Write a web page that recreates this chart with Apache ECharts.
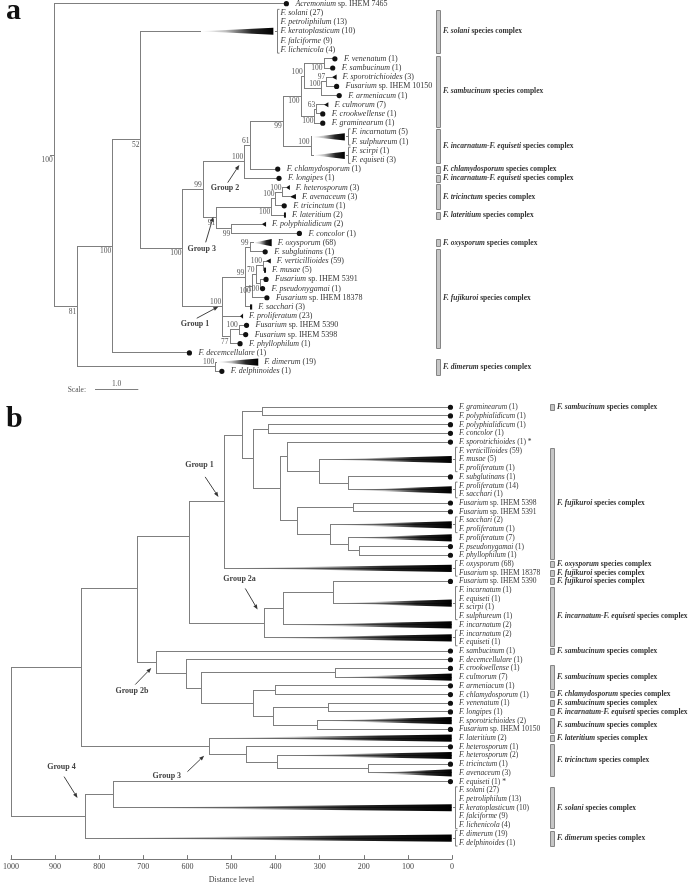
<!DOCTYPE html>
<html><head><meta charset="utf-8">
<script src="https://cdn.jsdelivr.net/npm/echarts@6.0.0/dist/echarts.min.js"></script>
<style>html,body{margin:0;padding:0;background:#fff}#chart{width:696px;height:889px}</style>
</head><body><div id="chart"></div>
<script>
// ================= PANEL a : bootstrap tree =================
const aLabels = [
 ['Acremonium',' sp. IHEM 7465'],
 ['F. solani',' (27)'],['F. petroliphilum',' (13)'],['F. keratoplasticum',' (10)'],['F. falciforme',' (9)'],['F. lichenicola',' (4)'],
 ['F. venenatum',' (1)'],['F. sambucinum',' (1)'],['F. sporotrichioides',' (3)'],['Fusarium',' sp. IHEM 10150'],['F. armeniacum',' (1)'],
 ['F. culmorum',' (7)'],['F. crookwellense',' (1)'],['F. graminearum',' (1)'],
 ['F. incarnatum',' (5)'],['F. sulphureum',' (1)'],['F. scirpi',' (1)'],['F. equiseti',' (3)'],
 ['F. chlamydosporum',' (1)'],['F. longipes',' (1)'],
 ['F. heterosporum',' (3)'],['F. avenaceum',' (3)'],['F. tricinctum',' (1)'],['F. lateritium',' (2)'],
 ['F. polyphialidicum',' (2)'],['F. concolor',' (1)'],
 ['F. oxysporum',' (68)'],['F. subglutinans',' (1)'],['F. verticillioides',' (59)'],['F. musae',' (5)'],
 ['Fusarium',' sp. IHEM 5391'],['F. pseudonygamai',' (1)'],['Fusarium',' sp. IHEM 18378'],['F. sacchari',' (3)'],
 ['F. proliferatum',' (23)'],['Fusarium',' sp. IHEM 5390'],['Fusarium',' sp. IHEM 5398'],['F. phyllophilum',' (1)'],
 ['F. decemcellulare',' (1)'],['F. dimerum',' (19)'],['F. delphinoides',' (1)']
];
const aTips = [
 ['acr',0,0,'dot',5.36,5.36],['sol',1,5,'tri',3.37,5.06],
 ['ven',6,6,'dot',6.48,6.48],['sam',7,7,'dot',6.43,6.43],['spo',8,8,'tri',6.41,6.52],['i10150',9,9,'dot',6.52,6.52],
 ['arm',10,10,'dot',6.58,6.58],['cul',11,11,'tri',6.23,6.33],['cro',12,12,'dot',6.20,6.20],['gra',13,13,'dot',6.20,6.20],
 ['inc',14,15,'tri',5.95,6.71],['sci',16,17,'tri',5.98,6.71],['chl',18,18,'dot',5.16,5.16],['lon',19,19,'dot',5.19,5.19],
 ['het',20,20,'tri',5.35,5.44],['ave',21,21,'tri',5.44,5.58],['tri',22,22,'dot',5.31,5.31],['lat',23,23,'tri',5.31,5.35],
 ['pol',24,24,'tri',4.79,4.89],['con',25,25,'dot',5.66,5.66],['oxy',26,26,'tri',4.60,5.02],['sub',27,27,'dot',4.87,4.87],
 ['ver',28,28,'tri',4.89,5.00],['mus',29,29,'tri',4.86,4.89],['i5391',30,30,'dot',4.89,4.89],['pse',31,31,'dot',4.81,4.81],
 ['i18378',32,32,'dot',4.91,4.91],['sac',33,33,'tri',4.52,4.57],['pro',34,34,'tri',4.29,4.36],['i5390',35,35,'dot',4.44,4.44],
 ['i5398',36,36,'dot',4.42,4.42],['phy',37,37,'dot',4.29,4.29],['dec',38,38,'dot',3.12,3.12],['dim',39,39,'tri',3.75,4.71],
 ['del',40,40,'dot',3.87,3.87]
];
const aNodes = [
 ['root',0,100,['acr','n81']],['n81',0.54,81,['n100a','ndim']],['n100a',1.35,100,['n52','dec']],
 ['n52',2.00,52,['sol','n100b']],['n100b',2.97,100,['n99a','g1']],['n99a',3.44,99,['g2','g3']],
 ['g2',4.40,100,['n61','lon']],['n61',4.54,61,['n99b','chl']],['n99b',5.29,99,['nsam','ninc']],
 ['nsam',5.70,100,['ny','nz']],['ny',5.77,100,['nvs','nsia']],['nvs',6.23,100,['ven','sam']],
 ['nsia',6.18,100,['nsi','arm']],['nsi',6.29,97,['spo','i10150']],['nz',6.02,100,['ncc','gra']],
 ['ncc',6.06,63,['cul','cro']],['ninc',5.93,100,['inc','sci']],
 ['g3',3.75,91,['nhet','npc']],['nhet',5.02,100,['nhat','lat']],['nhat',5.12,100,['nha','tri']],
 ['nha',5.28,100,['het','ave']],['npc',4.10,99,['pol','con']],
 ['g1',3.89,100,['ns','pro','nv']],['ns',4.42,99,['nos','nw','sac']],['nos',4.52,99,['oxy','sub']],
 ['nw',4.57,100,['nx','i18378']],['nx',4.66,70,['nvm','npp']],['nvm',4.83,100,['ver','mus']],
 ['npp',4.77,100,['i5391','pse']],['nv',4.06,77,['nu','phy']],['nu',4.27,100,['i5390','i5398']],
 ['ndim',3.73,100,['dim','del']]
];
const aComplexes = [
 [1,5,'F. solani'],[6,13,'F. sambucinum'],[14,17,'F. incarnatum-F. equiseti'],[18,18,'F. chlamydosporum'],
 [19,19,'F. incarnatum-F. equiseti'],[20,22,'F. tricinctum'],[23,23,'F. lateritium'],[26,26,'F. oxysporum'],
 [27,37,'F. fujikuroi'],[39,40,'F. dimerum']
];
const aScaleLength = 1.0;
const aGroups = [['g1','Group 1'],['g2','Group 2'],['g3','Group 3']];

// ================= PANEL b : distance dendrogram =================
const bLabels = [
 ['F. graminearum',' (1)'],['F. polyphialidicum',' (1)'],['F. polyphialidicum',' (1)'],['F. concolor',' (1)'],
 ['F. sporotrichioides',' (1) *'],['F. verticillioides',' (59)'],['F. musae',' (5)'],['F. proliferatum',' (1)'],
 ['F. subglutinans',' (1)'],['F. proliferatum',' (14)'],['F. sacchari',' (1)'],['Fusarium',' sp. IHEM 5398'],
 ['Fusarium',' sp. IHEM 5391'],['F. sacchari',' (2)'],['F. proliferatum',' (1)'],['F. proliferatum',' (7)'],
 ['F. pseudonygamai',' (1)'],['F. phyllophilum',' (1)'],['F. oxysporum',' (68)'],['Fusarium',' sp. IHEM 18378'],
 ['Fusarium',' sp. IHEM 5390'],['F. incarnatum',' (1)'],['F. equiseti',' (1)'],['F. scirpi',' (1)'],
 ['F. sulphureum',' (1)'],['F. incarnatum',' (2)'],['F. incarnatum',' (2)'],['F. equiseti',' (1)'],
 ['F. sambucinum',' (1)'],['F. decemcellulare',' (1)'],['F. crookwellense',' (1)'],['F. culmorum',' (7)'],
 ['F. armeniacum',' (1)'],['F. chlamydosporum',' (1)'],['F. venenatum',' (1)'],['F. longipes',' (1)'],
 ['F. sporotrichioides',' (2)'],['Fusarium',' sp. IHEM 10150'],['F. lateritium',' (2)'],['F. heterosporum',' (1)'],
 ['F. heterosporum',' (2)'],['F. tricinctum',' (1)'],['F. avenaceum',' (3)'],['F. equiseti',' (1) *'],
 ['F. solani',' (27)'],['F. petroliphilum',' (13)'],['F. keratoplasticum',' (10)'],['F. falciforme',' (9)'],
 ['F. lichenicola',' (4)'],['F. dimerum',' (19)'],['F. delphinoides',' (1)']
];
const bTips = [
 ['t0',0,0,'dot'],['t1',1,1,'dot'],['t2',2,2,'dot'],['t3',3,3,'dot'],['t4',4,4,'dot'],['t5',5,7,'tri'],
 ['t8',8,8,'dot'],['t9',9,10,'tri'],['t11',11,11,'dot'],['t12',12,12,'dot'],['t13',13,14,'tri'],['t15',15,15,'tri'],
 ['t16',16,16,'dot'],['t17',17,17,'dot'],['t18',18,19,'tri'],['t20',20,20,'dot'],['t21',21,24,'tri'],['t25',25,25,'tri'],
 ['t26',26,27,'tri'],['t28',28,28,'dot'],['t29',29,29,'dot'],['t30',30,30,'dot'],['t31',31,31,'tri'],['t32',32,32,'dot'],
 ['t33',33,33,'dot'],['t34',34,34,'dot'],['t35',35,35,'dot'],['t36',36,36,'tri'],['t37',37,37,'dot'],['t38',38,38,'tri'],
 ['t39',39,39,'dot'],['t40',40,40,'tri'],['t41',41,41,'dot'],['t42',42,42,'tri'],['t43',43,43,'dot'],['t44',44,48,'tri'],
 ['t49',49,50,'tri']
];
const bNodes = [
 ['n1',430,['t0','t1']],['n2',415,['t2','t3']],['n8',235,['t8','t9']],['n7',301,['t5','n8']],['n6',372,['t4','n7']],
 ['n10',224,['t11','t12']],['n13',210,['t16','t17']],['n12',235,['t15','n13']],['n11',276,['t13','n12']],
 ['n9',350,['n10','n11']],['n5',390,['n6','n9']],['n4',450,['n2','n5']],['n3',475,['n1','n4']],['g1',516,['n3','t18']],
 ['n269',269,['t20','t21']],['n380',381,['n269','t25']],['g2a',425,['n380','t26']],['n595',595,['g1','g2a'],14.8],
 ['n265',265,['t30','t31']],['n400',400,['t32','t33']],['n279',279,['t34','t35']],['n306',306,['t36','t37']],
 ['n405',405,['n279','n306']],['n450',450,['n400','n405']],['n567',567,['n265','n450']],['n601',601,['t29','n567']],
 ['g2b',669,['t28','n601']],['n714',714,['n595','g2b'],20.8],['n190',190,['t41','t42']],['n395',395,['t40','n190']],
 ['n465',465,['t39','n395']],['g3',550,['t38','n465']],['n840',840,['n714','g3']],['n767',767,['t43','t44']],
 ['g4',832,['n767','t49']],['root',1000,['n840','g4']]
];
const bComplexes = [
 [0,0,'F. sambucinum'],[5,17,'F. fujikuroi'],[18,18,'F. oxysporum'],[19,19,'F. fujikuroi'],[20,20,'F. fujikuroi'],
 [21,27,'F. incarnatum-F. equiseti'],[28,28,'F. sambucinum'],[30,32,'F. sambucinum'],[33,33,'F. chlamydosporum'],
 [34,34,'F. sambucinum'],[35,35,'F. incarnatum-F. equiseti'],[36,37,'F. sambucinum'],[38,38,'F. lateritium'],
 [39,42,'F. tricinctum'],[44,48,'F. solani'],[49,50,'F. dimerum']
];
const bGroups = [['g1','Group 1'],['g2a','Group 2a'],['g2b','Group 2b'],['g3','Group 3'],['g4','Group 4']];
const distanceTicks = [0,100,200,300,400,500,600,700,800,900,1000];

// ================= styling / layout (not data) =================
const SERIF = '"Liberation Serif","Times New Roman",Times,serif';
const LINE = '#7f7f7f', TXT = '#363636', BOOTC = '#555';
const bootAbove = new Set(['n99a','g2','n61','g1','ny','nsi','nsia','ncc','ninc','nha','nhat','nos','ns','nvm','nx','nu','ndim']);
const noteLayout = {
 a_g1: [[-4.4,-0.3],[-26,11.3],[-27.7,17]],
 a_g2: [[-5.5,3.2],[-17.1,20.9],[-19.8,26.5]],
 a_g3: [[-3.4,-1.2],[-11,24.4],[-15,31.4]],
 b_g1: [[-6,-4.9],[-19.3,-24.9],[-25,-36.5]],
 b_g2a: [[-7,-13.8],[-19.3,-34.8],[-25,-44.8]],
 b_g2b: [[-5.7,5.5],[-21.7,22.1],[-25,28.1]],
 b_g3: [[-5.3,9.4],[-22,25.4],[-42.6,29.4]],
 b_g4: [[-7.6,-18.5],[-21,-39.8],[-23.6,-49.2]]
};
const richSp = fs => ({
 i:{fontStyle:'italic',fontSize:fs,fontFamily:SERIF,fill:TXT},
 n:{fontSize:fs,fontFamily:SERIF,fill:TXT}
});
const richCx = {
 bi:{fontStyle:'italic',fontWeight:'bold',fontSize:7.5,fontFamily:SERIF,fill:'#333'},
 b:{fontWeight:'bold',fontSize:7.5,fontFamily:SERIF,fill:'#333'}
};

function buildTree(tips, nodes, isA) {
  const M = {};
  tips.forEach(t => { M[t[0]] = {id:t[0], tip:true, r0:t[1], r1:t[2], shape:t[3], sx:isA?t[4]:null, x:isA?t[5]:null}; });
  nodes.forEach(n => { M[n[0]] = isA ? {id:n[0], x:n[1], boot:n[2], kids:n[3]} : {id:n[0], x:n[1], kids:n[2], ov:n[3]}; });
  Object.values(M).forEach(n => { if (n.kids) n.kids.forEach(k => { M[k].parent = n; }); });
  const yOf = id => {
    const n = M[id];
    if (n.y !== undefined) return n.y;
    if (n.tip) n.y = (n.r0 + n.r1) / 2;
    else if (n.ov !== undefined && n.ov !== null) { n.kids.forEach(yOf); n.y = n.ov; }
    else { const ys = n.kids.map(yOf); n.y = (ys[0] + ys[ys.length-1]) / 2; }
    return n.y;
  };
  Object.keys(M).forEach(yOf);
  if (!isA) Object.values(M).forEach(n => { if (n.tip) { n.sx = n.parent.x; n.x = n.shape === 'dot' ? 3.5 : 0.5; } });
  return M;
}

function treePrims(M, labels, cfg) {
  const P = [], els = Object.values(M);
  els.forEach(e => {
    if (e.parent) {
      const end = (e.tip && e.shape === 'tri' && cfg.stopAtApex) ? e.sx : e.x;
      P.push({t:'seg', x1:e.parent.x, y1:e.y, x2:end, y2:e.y});
    } else if (cfg.rootStub) {
      P.push({t:'seg', x1:e.x, y1:e.y, x2:e.x, y2:e.y, stubPx:cfg.rootStub});
    }
    if (!e.tip) P.push({t:'seg', x1:e.x, y1:M[e.kids[0]].y, x2:e.x, y2:M[e.kids[e.kids.length-1]].y});
  });
  els.forEach(e => { if (e.tip && e.shape === 'tri') P.push({t:'tri', x1:e.sx, x2:e.x, y:e.y, multi:e.r1 > e.r0}); });
  els.forEach(e => { if (e.tip && e.shape === 'dot') P.push({t:'dot', x:e.x, y:e.y}); });
  els.forEach(e => {
    if (!e.tip) return;
    const lx = cfg.labelAt !== undefined ? cfg.labelAt : e.x;
    const multi = e.r1 > e.r0;
    if (multi) P.push({t:'brk', x:lx, r0:e.r0, r1:e.r1, dx:cfg.brkDx});
    for (let r = e.r0; r <= e.r1; r++) {
      const L = labels[r];
      const dx = cfg.labelAt !== undefined ? cfg.txtDx : (multi ? cfg.txtDx : (e.shape === 'dot' ? cfg.dotDx : cfg.triDx));
      P.push({t:'lab', x:lx, y:r, dx:dx, text:'{i|' + L[0] + '}{n|' + L[1] + '}', fs:cfg.fs});
    }
  });
  els.forEach(e => { if (!e.tip && e.boot !== undefined) P.push({t:'boot', x:e.x, y:e.y, text:String(e.boot), up:bootAbove.has(e.id)}); });
  return P;
}

const A = buildTree(aTips, aNodes, true);
const B = buildTree(bTips, bNodes, false);

const PA = treePrims(A, aLabels, {stopAtApex:true, rootStub:4, brkDx:4, txtDx:7, dotDx:9, triDx:6, fs:8});
aComplexes.forEach(c => { PA.push({t:'cbar', x:0, r0:c[0], r1:c[1], dx:381.2}); PA.push({t:'clab', x:0, r0:c[0], r1:c[1], dx:388.7, text:'{bi|' + c[2] + '}{b| species complex}'}); });
aGroups.forEach(g => { const n = A[g[0]]; PA.push({t:'note', x:n.x, y:n.y, lay:noteLayout['a_' + g[0]], text:g[1]}); });
PA.push({t:'scale', x1:0.94, x2:0.94 + aScaleLength, y:42.0, text:aScaleLength.toFixed(1)});

const PB = treePrims(B, bLabels, {stopAtApex:false, labelAt:0, brkDx:3.5, txtDx:7, fs:7.5});
bComplexes.forEach(c => { PB.push({t:'cbar', x:0, r0:c[0], r1:c[1], dx:98}); PB.push({t:'clab', x:0, r0:c[0], r1:c[1], dx:105, text:'{bi|' + c[2] + '}{b| species complex}'}); });
bGroups.forEach(g => { const n = B[g[0]]; PB.push({t:'note', x:n.x, y:n.y, lay:noteLayout['b_' + g[0]], text:g[1]}); });

const sn = v => Math.round(v - 0.5) + 0.5;
function grad(x0, x1) {
  return new echarts.graphic.LinearGradient(x0, 0, x1, 0, [
    {offset:0, color:'rgba(0,0,0,0)'},{offset:0.35, color:'rgba(0,0,0,0.25)'},
    {offset:0.7, color:'rgba(0,0,0,0.85)'},{offset:1, color:'#000'}], true);
}
function makeRender(P) {
  return function (params, api) {
    const p = P[params.dataIndex];
    const c = (x, y) => api.coord([x, y]);
    switch (p.t) {
      case 'seg': {
        const a = c(p.x1, p.y1), b = c(p.x2, p.y2);
        const x1 = p.stubPx ? a[0] - p.stubPx : a[0];
        return {type:'line', shape:{x1:sn(x1), y1:sn(a[1]), x2:sn(b[0]), y2:sn(b[1])}, style:{stroke:LINE, lineWidth:1, lineCap:'square'}};
      }
      case 'tri': {
        const a = c(p.x1, p.y), b = c(p.x2, p.y);
        const len = b[0] - a[0];
        const h = (p.multi || len > 15) ? 3.6 : 2.6;
        if (len < 3) return {type:'rect', shape:{x:b[0] - Math.max(len, 2), y:a[1] - h, width:Math.max(len, 2), height:2 * h}, style:{fill:'#111'}};
        return {type:'polygon', shape:{points:[[a[0], a[1]], [b[0], b[1] - h], [b[0], b[1] + h]]},
          style:{fill: len > 15 ? grad(a[0], b[0]) : '#111'}};
      }
      case 'dot': {
        const a = c(p.x, p.y);
        return {type:'circle', shape:{cx:a[0], cy:a[1], r:2.6}, style:{fill:'#111'}};
      }
      case 'brk': {
        const a = c(p.x, p.r0), b = c(p.x, p.r1);
        const bx = sn(a[0] + p.dx), top = a[1] - 3.5, bot = b[1] + 3.5, mid = sn((a[1] + b[1]) / 2);
        return {type:'group', children:[
          {type:'polyline', shape:{points:[[bx + 2, top], [bx, top], [bx, bot], [bx + 2, bot]]}, style:{stroke:LINE, fill:null, lineWidth:1}},
          {type:'line', shape:{x1:bx - 2.5, y1:mid, x2:bx, y2:mid}, style:{stroke:LINE, lineWidth:1}}]};
      }
      case 'lab': {
        const a = c(p.x, p.y);
        return {type:'text', x:a[0] + p.dx, y:a[1], style:{text:p.text, rich:richSp(p.fs), fontSize:p.fs, fontFamily:SERIF, fill:TXT, align:'left', verticalAlign:'middle'}};
      }
      case 'boot': {
        const a = c(p.x, p.y);
        return {type:'text', x:a[0] - 1.5, y:a[1] + (p.up ? -4.5 : 5), style:{text:p.text, fontSize:7.5, fontFamily:SERIF, fill:BOOTC, align:'right', verticalAlign:'middle'}};
      }
      case 'cbar': {
        const a = c(p.x, p.r0 - 0.36), b = c(p.x, p.r1 + 0.36);
        return {type:'rect', shape:{x:Math.round(a[0] + p.dx) + 0.5, y:Math.round(a[1]) + 0.5, width:4, height:Math.round(b[1] - a[1])}, style:{fill:'#c6c6c6', stroke:'#858585', lineWidth:1}};
      }
      case 'clab': {
        const a = c(p.x, (p.r0 + p.r1) / 2);
        return {type:'text', x:a[0] + p.dx, y:a[1], style:{text:p.text, rich:richCx, fontSize:7.5, fontFamily:SERIF, fill:'#333', align:'left', verticalAlign:'middle'}};
      }
      case 'note': {
        const a = c(p.x, p.y), L = p.lay;
        const tip = [a[0] + L[0][0], a[1] + L[0][1]], tail = [a[0] + L[1][0], a[1] + L[1][1]];
        const dx = tip[0] - tail[0], dy = tip[1] - tail[1], len = Math.hypot(dx, dy), ux = dx / len, uy = dy / len;
        const base = [tip[0] - ux * 5, tip[1] - uy * 5];
        return {type:'group', children:[
          {type:'line', shape:{x1:tail[0], y1:tail[1], x2:base[0], y2:base[1]}, style:{stroke:'#444', lineWidth:1}},
          {type:'polygon', shape:{points:[tip, [base[0] - uy * 2, base[1] + ux * 2], [base[0] + uy * 2, base[1] - ux * 2]]}, style:{fill:'#333'}},
          {type:'text', x:a[0] + L[2][0], y:a[1] + L[2][1], style:{text:p.text, fontSize:8, fontWeight:'bold', fontFamily:SERIF, fill:'#444', align:'center', verticalAlign:'middle'}}]};
      }
      case 'scale': {
        const a = c(p.x1, p.y), b = c(p.x2, p.y);
        return {type:'group', children:[
          {type:'line', shape:{x1:a[0], y1:sn(a[1]), x2:b[0], y2:sn(b[1])}, style:{stroke:LINE, lineWidth:1}},
          {type:'text', x:(a[0] + b[0]) / 2, y:a[1] - 6, style:{text:p.text, fontSize:7.5, fontFamily:SERIF, fill:BOOTC, align:'center', verticalAlign:'middle'}},
          {type:'text', x:a[0] - 9, y:a[1], style:{text:'Scale:', fontSize:7.5, fontFamily:SERIF, fill:BOOTC, align:'right', verticalAlign:'middle'}}]};
      }
    }
    return null;
  };
}
const anchor = p => [p.x !== undefined ? p.x : p.x1, p.y !== undefined ? p.y : (p.y1 !== undefined ? p.y1 : p.r0)];

const chart = echarts.init(document.getElementById('chart'), null, {renderer:'canvas'});
chart.setOption({
  animation:false,
  backgroundColor:'#fff',
  title:[
    {text:'a', left:1, top:-9, textStyle:{fontFamily:SERIF, fontWeight:'bold', fontSize:30, color:'#111'}},
    {text:'b', left:1, top:399, textStyle:{fontFamily:SERIF, fontWeight:'bold', fontSize:30, color:'#111'}}
  ],
  grid:[
    {left:54.3, top:0, width:389.7, height:386},
    {left:11, top:402.9, width:441, height:462.9}
  ],
  xAxis:[
    {gridIndex:0, type:'value', min:0, max:9, show:false},
    {gridIndex:1, type:'value', inverse:true, min:distanceTicks[0], max:distanceTicks[distanceTicks.length-1], interval:distanceTicks[1]-distanceTicks[0],
     position:'bottom',
     axisLine:{show:true, onZero:false, lineStyle:{color:'#777', width:1}},
     axisTick:{show:true, inside:true, length:4, lineStyle:{color:'#777'}},
     axisLabel:{fontSize:8, fontFamily:SERIF, color:'#444', margin:4, formatter:v => String(v)},
     splitLine:{show:false},
     name:'Distance level', nameLocation:'middle', nameGap:16,
     nameTextStyle:{fontSize:8, fontFamily:SERIF, color:'#444'}}
  ],
  yAxis:[
    {gridIndex:0, type:'value', min:-0.4, max:41.6, inverse:true, show:false},
    {gridIndex:1, type:'value', min:-0.5, max:51.9, inverse:true, show:false}
  ],
  series:[
    {type:'custom', coordinateSystem:'cartesian2d', xAxisIndex:0, yAxisIndex:0, silent:true, clip:false,
     data:PA.map(anchor), renderItem:makeRender(PA)},
    {type:'custom', coordinateSystem:'cartesian2d', xAxisIndex:1, yAxisIndex:1, silent:true, clip:false,
     data:PB.map(anchor), renderItem:makeRender(PB)}
  ]
});
</script></body></html>
